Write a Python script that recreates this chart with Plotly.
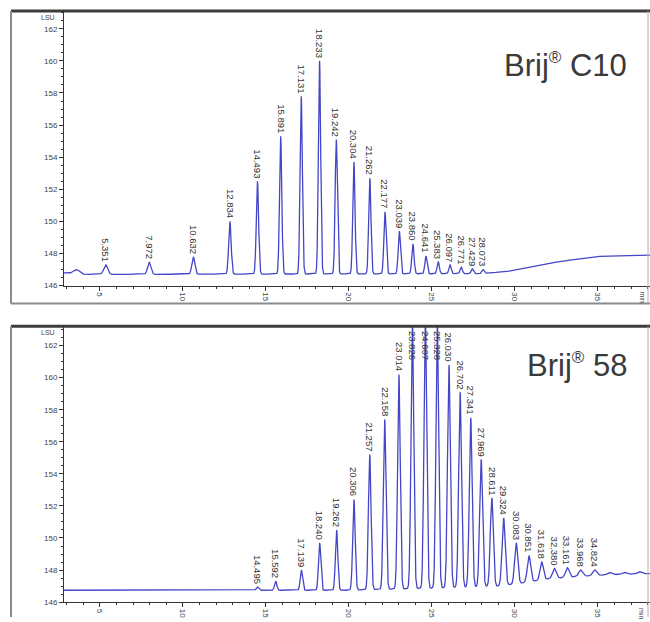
import numpy as np
import plotly.graph_objects as go

# ---------------- data ----------------
# Brij C10 : peak retention times (min) and apex signal (LSU)
c10_labels = ["5.351", "7.972", "10.632", "12.834", "14.493", "15.891", "17.131",
              "18.233", "19.242", "20.304", "21.262", "22.177", "23.039", "23.860",
              "24.641", "25.383", "26.097", "26.771", "27.429", "28.073"]
c10_rt = [5.351, 7.972, 10.632, 12.834, 14.493, 15.891, 17.131, 18.233, 19.242,
          20.304, 21.262, 22.177, 23.039, 23.860, 24.641, 25.383, 26.097, 26.771,
          27.429, 28.073]
c10_apex = [147.3, 147.45, 147.8, 150.0, 152.5, 155.3, 157.8, 160.0, 155.1,
            153.7, 152.7, 150.6, 149.4, 148.6, 147.85, 147.5, 147.3, 147.15,
            147.05, 147.0]
c10_width = [0.12, 0.10, 0.09, 0.075, 0.07, 0.068, 0.068, 0.068, 0.068,
             0.068, 0.068, 0.068, 0.068, 0.068, 0.068, 0.068, 0.068, 0.068,
             0.068, 0.068]
# unlabelled small bump at start
c10_extra_rt = [3.6]
c10_extra_apex = [147.0]
c10_extra_width = [0.18]
# baseline drift knots
c10_base_t = [2.84, 4.0, 28.0, 29.5, 31.0, 33.0, 35.0, 38.2]
c10_base_v = [146.8, 146.7, 146.75, 146.88, 147.2, 147.55, 147.82, 147.9]

# Brij 58
b58_labels = ["14.495", "15.592", "17.139", "18.240", "19.262", "20.306", "21.257",
              "22.158", "23.014", "23.826", "24.607", "25.328", "26.030", "26.702",
              "27.341", "27.969", "28.611", "29.324", "30.083", "30.851", "31.618",
              "32.380", "33.161", "33.968", "34.824"]
b58_rt = [14.495, 15.592, 17.139, 18.240, 19.262, 20.306, 21.257, 22.158, 23.014,
          23.826, 24.607, 25.328, 26.030, 26.702, 27.341, 27.969, 28.611, 29.324,
          30.083, 30.851, 31.618, 32.380, 33.161, 33.968, 34.824]
b58_apex = [146.95, 147.3, 148.0, 149.7, 150.5, 152.4, 155.2, 157.4, 160.2,
            163.6, 164.0, 163.5, 160.8, 159.1, 157.5, 154.9, 152.5, 151.25,
            149.7, 148.9, 148.5, 148.1, 148.15, 148.0, 148.0]
b58_width = [0.07, 0.07, 0.07, 0.07, 0.072, 0.075, 0.078, 0.08, 0.08,
             0.082, 0.082, 0.082, 0.085, 0.085, 0.085, 0.088, 0.09, 0.095,
             0.095, 0.1, 0.1, 0.11, 0.11, 0.12, 0.12]
b58_extra_rt = [35.7, 36.6, 37.5]
b58_extra_apex = [147.85, 147.85, 147.9]
b58_extra_width = [0.12, 0.12, 0.12]
b58_base_t = [2.84, 20.0, 22.0, 26.0, 29.0, 30.5, 32.0, 34.0, 36.0, 38.2]
b58_base_v = [146.74, 146.74, 146.8, 146.9, 147.0, 147.2, 147.45, 147.62, 147.72, 147.78]

panels = [
    ("Brij<sup><span style='font-size:17px'>®</span></sup> C10", c10_labels, c10_rt,
     c10_apex, c10_width, c10_extra_rt, c10_extra_apex, c10_extra_width,
     c10_base_t, c10_base_v),
    ("Brij<sup><span style='font-size:17px'>®</span></sup> 58", b58_labels, b58_rt,
     b58_apex, b58_width, b58_extra_rt, b58_extra_apex, b58_extra_width,
     b58_base_t, b58_base_v),
]

x_ticks = [5, 10, 15, 20, 25, 30, 35]
y_ticks = [146, 148, 150, 152, 154, 156, 158, 160, 162]

# ---------------- figure ----------------
W, H = 650, 622
L = 64
PW = W - L
XR = [2.84, 2.84 + PW / 16.6]
LINE = "#4545c8"

# pixel geometry of the two plot areas (top, bottom) and y ranges
geo = [dict(top=12, bot=288, yr=[146, 163.05]),
       dict(top=329, bot=607, yr=[146, 163.2])]


def px(x):
    return (x - L) / PW


def py(y):
    return (H - y) / H


fig = go.Figure()
annotations = []
t = np.arange(XR[0], XR[1], 0.004)

LABEL_FONT = dict(size=9.5, color="#333", family="Arial")

for i, (title, labs, rt, apex, wid, ert, eap, ewd, bt, bv) in enumerate(panels):
    xa = "x" if i == 0 else "x2"
    ya = "y" if i == 0 else "y2"
    base = np.interp(t, bt, bv)
    sig = base.copy()
    for r, a, w in zip(list(rt) + list(ert), list(apex) + list(eap), list(wid) + list(ewd)):
        amp = a - np.interp(r, bt, bv)
        sig += amp * np.exp(-0.5 * ((t - r) / w) ** 2)
    fig.add_trace(go.Scatter(x=t, y=sig, mode="lines", xaxis=xa, yaxis=ya,
                             line=dict(color=LINE, width=1.3), hoverinfo="skip",
                             showlegend=False))
    ytop = geo[i]["yr"][1]
    for lab, r, a in zip(labs, rt, apex):
        if a > ytop - 0.3:
            annotations.append(dict(x=r, y=ytop - 0.15, xref=xa, yref=ya, text=lab,
                                    textangle=90, showarrow=False, xanchor="center",
                                    yanchor="top", font=LABEL_FONT))
        else:
            annotations.append(dict(x=r, y=a, xref=xa, yref=ya, text=lab,
                                    textangle=90, showarrow=False, xanchor="center",
                                    yanchor="bottom", yshift=1, font=LABEL_FONT))
    # title
    ty = 66 if i == 0 else 368
    annotations.append(dict(x=px(629), y=py(ty), xref="paper", yref="paper", text=title,
                            showarrow=False, xanchor="right", yanchor="middle",
                            font=dict(size=31, color="#3a3a3a", family="Arial")))
    # LSU
    annotations.append(dict(x=px(48), y=py(geo[i]["top"] + 6), xref="paper", yref="paper",
                            text="LSU", showarrow=False, xanchor="center", yanchor="middle",
                            font=dict(size=7, color="#444", family="Arial")))
    # min
    annotations.append(dict(x=px(642), y=py(geo[i]["bot"] + 11), xref="paper", yref="paper",
                            text="min", showarrow=False, xanchor="center", yanchor="middle",
                            textangle=90,
                            font=dict(size=7, color="#444", family="Arial")))

axis_common = dict(showgrid=False, zeroline=False, showline=True, linecolor="#333",
                   linewidth=1, ticks="outside", tickcolor="#333", ticklen=4,
                   tickfont=dict(size=8, color="#444", family="Arial"))

for i in range(2):
    g = geo[i]
    dom = [py(g["bot"]), py(g["top"])]
    xa = dict(axis_common, range=XR, domain=[0, 1], tickvals=x_ticks,
              ticktext=[str(v) for v in x_ticks], tickangle=90,
              minor=dict(dtick=1, ticks="outside", ticklen=2, tickcolor="#333"),
              anchor="y" if i == 0 else "y2")
    yax = dict(axis_common, range=g["yr"], domain=dom, tickvals=y_ticks,
               ticktext=[str(v) for v in y_ticks],
               minor=dict(dtick=0.5, ticks="outside", ticklen=2, tickcolor="#333"),
               anchor="x" if i == 0 else "x2")
    if i == 0:
        fig.update_layout(xaxis=xa, yaxis=yax)
    else:
        fig.update_layout(xaxis2=xa, yaxis2=yax)

# window frames
shapes = []
def seg(x0, y0, x1, y1, color, width):
    shapes.append(dict(type="line", xref="paper", yref="paper", x0=px(x0), y0=py(y0),
                       x1=px(x1), y1=py(y1), line=dict(color=color, width=width)))

seg(11, 11, 650, 11, "#3c3c3c", 3)
seg(11, 11, 11, 306, "#8a8a8a", 2)
seg(11, 306, 650, 306, "#8a8a8a", 2)
seg(648, 11, 648, 306, "#b0b0b0", 1)
seg(11, 329, 650, 329, "#3c3c3c", 3)
seg(11, 329, 11, 622, "#8a8a8a", 2)
seg(648, 329, 648, 622, "#b0b0b0", 1)

fig.update_layout(width=W, height=H, margin=dict(l=L, r=0, t=0, b=0),
                  paper_bgcolor="white", plot_bgcolor="white",
                  annotations=annotations, shapes=shapes, showlegend=False)

fig.write_html("out.html")
